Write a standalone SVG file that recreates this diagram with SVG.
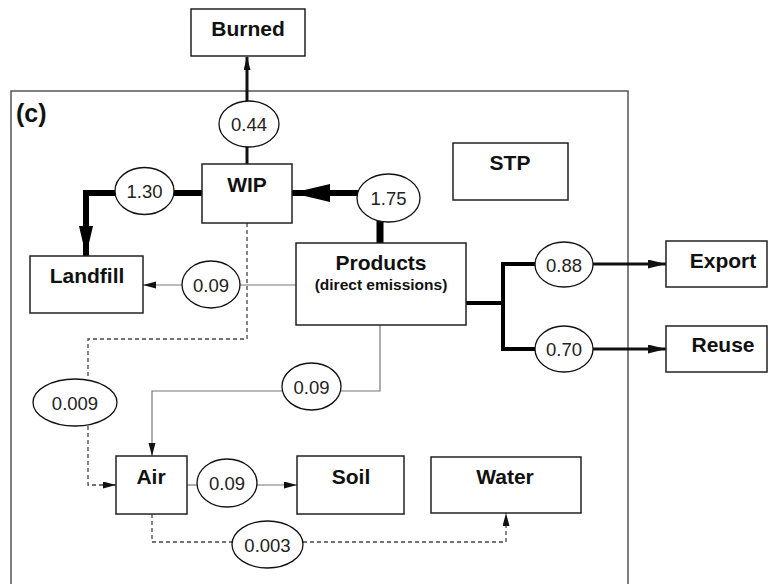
<svg xmlns="http://www.w3.org/2000/svg" width="768" height="584" viewBox="0 0 768 584">
<style>
.box{fill:#fff;stroke:#222;stroke-width:1.5}
.frame{fill:none;stroke:#555;stroke-width:1.5}
.lbl{font-family:"Liberation Sans",Arial,sans-serif;font-weight:bold;font-size:21px;fill:#111;text-anchor:middle}
.sub{font-family:"Liberation Sans",Arial,sans-serif;font-weight:bold;font-size:15.5px;fill:#111;text-anchor:middle}
.num{font-family:"Liberation Sans",Arial,sans-serif;font-size:18.5px;fill:#222;text-anchor:middle}
.ell{fill:#fff;stroke:#111;stroke-width:1.3}
.thin{fill:none;stroke:#777;stroke-width:1.2}
.dash{fill:none;stroke:#444;stroke-width:1.3;stroke-dasharray:4 3}
.med{fill:none;stroke:#111;stroke-width:3}
.thick{fill:none;stroke:#000;stroke-width:6}
.heavy{fill:none;stroke:#000;stroke-width:7}
</style>
<defs>
<marker id="aS" markerUnits="userSpaceOnUse" markerWidth="14" markerHeight="8" refX="13" refY="3.5" orient="auto"><path d="M0,0 L13,3.5 L0,7 z" fill="#111"/></marker>
<marker id="aM" markerUnits="userSpaceOnUse" markerWidth="19" markerHeight="10" refX="18" refY="4.5" orient="auto"><path d="M0,0 L18,4.5 L0,9 z" fill="#111"/></marker>
<marker id="aB" markerUnits="userSpaceOnUse" markerWidth="31" markerHeight="15" refX="30" refY="7" orient="auto"><path d="M0,0 L30,7 L0,14 z" fill="#000"/></marker>
<marker id="aH" markerUnits="userSpaceOnUse" markerWidth="39" markerHeight="19" refX="38" refY="9" orient="auto"><path d="M0,0 L38,9 L0,18 z" fill="#000"/></marker>
</defs>

<rect class="frame" x="11" y="91" width="617" height="520"/>
<text x="16" y="122" font-family="Liberation Sans, Arial, sans-serif" font-weight="bold" font-size="25" fill="#111">(c)</text>

<g id="connectors">
  <!-- WIP -> Burned -->
  <path class="med" d="M247,164 V146"/>
  <path class="med" d="M247,101 V57" marker-end="url(#aS)"/>
  <!-- WIP -> Landfill -->
  <path class="thick" d="M202,193 H172"/>
  <path class="thick" d="M117,193 H86 V256" marker-end="url(#aB)"/>
  <!-- Products -> WIP -->
  <path class="heavy" d="M380,243 V220"/>
  <path class="thick" d="M358,193 H292" marker-end="url(#aH)"/>
  <!-- Products -> Landfill -->
  <path class="thin" d="M296,285 H240"/>
  <path class="thin" d="M182,285 H143" marker-end="url(#aS)"/>
  <!-- Products -> Export / Reuse -->
  <path fill="none" stroke="#000" stroke-width="4" d="M466,303 H503 M503,262 V351 M501,264 H536 M501,349 H536"/>
  <path class="med" d="M593,264 H666" marker-end="url(#aM)"/>
  <path class="med" d="M593,349 H666" marker-end="url(#aM)"/>
  <!-- Products -> Air -->
  <path class="thin" d="M380,325 V391 H341"/>
  <path class="thin" d="M282,391 H152 V456" marker-end="url(#aS)"/>
  <!-- WIP -> Air (dashed) -->
  <path class="dash" d="M247,223 V339 H88 V379"/>
  <path class="dash" d="M88,426 V485 H116" marker-end="url(#aS)"/>
  <!-- Air -> Soil -->
  <path class="thin" d="M187,485 H197"/>
  <path class="thin" d="M257,485 H297" marker-end="url(#aS)"/>
  <!-- Air -> Water (dashed) -->
  <path class="dash" d="M152,514 V542 H232"/>
  <path class="dash" d="M303,542 H506 V513" marker-end="url(#aS)"/>
</g>

<g id="labels">
  <g id="l044"><ellipse class="ell" cx="249" cy="124" rx="30" ry="23"/><text class="num" x="249" y="131">0.44</text></g>
  <g id="l130"><ellipse class="ell" cx="144.5" cy="191" rx="29.5" ry="23.5"/><text class="num" x="144.5" y="198">1.30</text></g>
  <g id="l175"><ellipse class="ell" cx="388.5" cy="198" rx="31.5" ry="24"/><text class="num" x="388.5" y="205">1.75</text></g>
  <g id="l009a"><ellipse class="ell" cx="211" cy="284.5" rx="29" ry="23.5"/><text class="num" x="211" y="291.5">0.09</text></g>
  <g id="l088"><ellipse class="ell" cx="564" cy="264.5" rx="29" ry="22.5"/><text class="num" x="564" y="271.5">0.88</text></g>
  <g id="l070"><ellipse class="ell" cx="564" cy="349" rx="29" ry="23"/><text class="num" x="564" y="356">0.70</text></g>
  <g id="l009b"><ellipse class="ell" cx="311.5" cy="386.5" rx="29.5" ry="23.5"/><text class="num" x="311.5" y="393.5">0.09</text></g>
  <g id="l0009"><ellipse class="ell" cx="75" cy="402.5" rx="42" ry="23.5"/><text class="num" x="75" y="409.5">0.009</text></g>
  <g id="l009c"><ellipse class="ell" cx="227" cy="483" rx="30" ry="24"/><text class="num" x="227" y="490">0.09</text></g>
  <g id="l0003"><ellipse class="ell" cx="267.5" cy="544.5" rx="35.5" ry="23.5"/><text class="num" x="267.5" y="551.5">0.003</text></g>
</g>

<g id="burned"><rect class="box" x="191" y="9" width="114" height="47"/><text class="lbl" x="248" y="36">Burned</text></g>
<g id="wip"><rect class="box" x="202" y="164" width="90" height="59"/><text class="lbl" x="247" y="192">WIP</text></g>
<g id="stp"><rect class="box" x="453" y="143" width="115" height="57"/><text class="lbl" x="510" y="170">STP</text></g>
<g id="products"><rect class="box" x="296" y="243" width="170" height="82"/><text class="lbl" x="381" y="270">Products</text><text class="sub" x="381" y="290">(direct emissions)</text></g>
<g id="landfill"><rect class="box" x="30" y="256" width="113" height="57"/><text class="lbl" x="87" y="283">Landfill</text></g>
<g id="export"><rect class="box" x="666" y="241" width="101" height="46"/><text class="lbl" x="723" y="268">Export</text></g>
<g id="reuse"><rect class="box" x="666" y="326" width="101" height="46"/><text class="lbl" x="723" y="352">Reuse</text></g>
<g id="air"><rect class="box" x="116" y="456" width="71" height="58"/><text class="lbl" x="151" y="484">Air</text></g>
<g id="soil"><rect class="box" x="297" y="456" width="107" height="58"/><text class="lbl" x="351" y="484">Soil</text></g>
<g id="water"><rect class="box" x="431" y="457" width="150" height="56"/><text class="lbl" x="505" y="484">Water</text></g>
</svg>
